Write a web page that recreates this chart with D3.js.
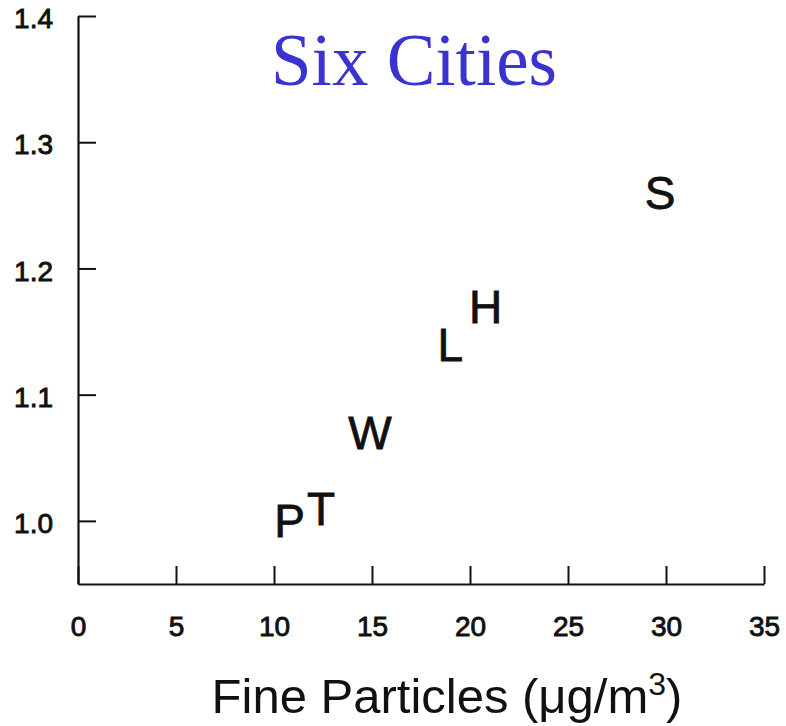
<!DOCTYPE html>
<html>
<head>
<meta charset="utf-8">
<script src="https://cdn.jsdelivr.net/npm/d3@7"></script>
<style>
  html, body { margin: 0; padding: 0; background: #fff; }
  svg { display: block; }
  .axis path, .axis line { stroke: #111; }
  .axis text { font-family: "Liberation Sans", Arial, sans-serif; fill: #111; }
</style>
</head>
<body>
<svg id="chart" width="786" height="726"></svg>
<script>
// City codes with mean fine-particle level and mortality rate ratio
const cities = ["P", "T", "W", "L", "H", "S"];
const fineParticles = [10.8, 12.4, 14.9, 19.0, 20.8, 29.7];
const rateRatio = [1.00, 1.01, 1.07, 1.14, 1.17, 1.26];

const xTicks = [0, 5, 10, 15, 20, 25, 30, 35];
const yTicks = [1.0, 1.1, 1.2, 1.3, 1.4];

const svg = d3.select("#chart");

const x = d3.scaleLinear().domain([0, 35]).range([78, 764]);
const y = d3.scaleLinear().domain([0.95, 1.4]).range([584, 16]);

// Bottom axis, ticks pointing into the plot
const xAxis = svg.append("g")
  .attr("class", "axis")
  .attr("transform", `translate(0,${y(0.95)})`)
  .call(d3.axisBottom(x)
    .tickValues(xTicks)
    .tickFormat(d3.format("d"))
    .tickSizeInner(-18)
    .tickSizeOuter(0)
    .tickPadding(32));
xAxis.select(".domain").attr("stroke-width", 2.2);
xAxis.selectAll(".tick line").attr("stroke-width", 2);
xAxis.selectAll(".tick text")
  .attr("font-size", 28)
  .attr("stroke", "#111").attr("stroke-width", 0.9);

// Left axis, ticks pointing into the plot
const yAxis = svg.append("g")
  .attr("class", "axis")
  .attr("transform", `translate(${x(0)},0)`)
  .call(d3.axisLeft(y)
    .tickValues(yTicks)
    .tickFormat(d3.format(".1f"))
    .tickSizeInner(-18)
    .tickSizeOuter(0)
    .tickPadding(25));
yAxis.select(".domain").attr("stroke-width", 2.2);
yAxis.selectAll(".tick line").attr("stroke-width", 2);
yAxis.selectAll(".tick text")
  .attr("font-size", 28)
  .attr("dy", "0.42em")
  .attr("stroke", "#111").attr("stroke-width", 0.9);

// City letters used as point markers
svg.append("g")
  .selectAll("text")
  .data(cities)
  .join("text")
  .attr("x", (d, i) => x(fineParticles[i]))
  .attr("y", (d, i) => y(rateRatio[i]))
  .attr("dy", "0.36em")
  .attr("text-anchor", "middle")
  .attr("font-family", "Liberation Sans, Arial, sans-serif")
  .attr("font-size", 46)
  .attr("fill", "#111")
  .attr("stroke", "#111")
  .attr("stroke-width", 0.8)
  .text(d => d);

// Title
svg.append("text")
  .attr("x", 414)
  .attr("y", 85)
  .attr("text-anchor", "middle")
  .attr("font-family", "Liberation Serif, 'Times New Roman', serif")
  .attr("font-size", 73)
  .attr("fill", "#3a33d0")
  .text("Six Cities");

// Axis title with superscript unit
const xt = svg.append("text")
  .attr("x", 447)
  .attr("y", 713)
  .attr("text-anchor", "middle")
  .attr("font-family", "Liberation Sans, Arial, sans-serif")
  .attr("font-size", 49)
  .attr("fill", "#111");
xt.append("tspan").text("Fine Particles (μg/m");
xt.append("tspan").attr("font-size", 32).attr("dy", -18).text("3");
xt.append("tspan").attr("dy", 18).text(")");
</script>
</body>
</html>
